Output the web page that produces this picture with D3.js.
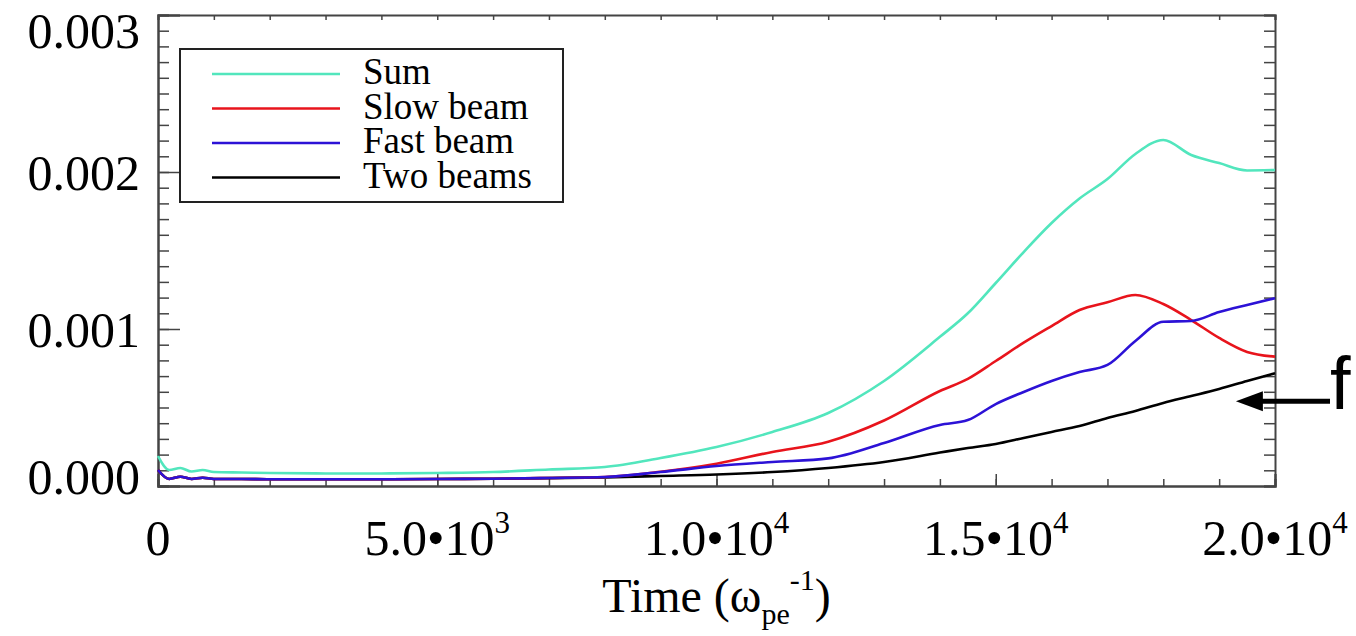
<!DOCTYPE html>
<html>
<head>
<meta charset="utf-8">
<script src="https://cdn.jsdelivr.net/npm/d3@7"></script>
<style>
  body { margin: 0; background: #fff; }
  svg { display: block; }
</style>
</head>
<body>
<div id="chart"></div>
<script>
// time samples (omega_pe^-1)
var times = [0, 200, 400, 600, 800, 1000, 1500, 2000, 3000, 4000, 5000, 6000, 7000, 8000, 9000, 10000,
  11000, 12000, 13000, 14000, 14500, 15000, 15500, 16000, 16500, 17000, 17500, 18000, 18500, 19000, 19500, 20000];

// energies, in units of 1e-3
var sumVals = [0.191, 0.102, 0.115, 0.092, 0.102, 0.089, 0.086, 0.083, 0.080, 0.080, 0.083, 0.089, 0.105, 0.121, 0.178, 0.248,
  0.344, 0.465, 0.669, 0.950, 1.100, 1.293, 1.490, 1.675, 1.831, 1.955, 2.115, 2.204, 2.108, 2.057, 2.010, 2.013];
var slowVals = [0.102, 0.045, 0.059, 0.045, 0.053, 0.045, 0.045, 0.043, 0.043, 0.043, 0.045, 0.046, 0.051, 0.057, 0.091, 0.142,
  0.217, 0.282, 0.417, 0.605, 0.682, 0.796, 0.913, 1.019, 1.121, 1.170, 1.217, 1.159, 1.057, 0.943, 0.854, 0.824];
var fastVals = [0.102, 0.045, 0.059, 0.045, 0.053, 0.045, 0.045, 0.043, 0.043, 0.043, 0.045, 0.046, 0.051, 0.057, 0.089, 0.127,
  0.153, 0.176, 0.274, 0.389, 0.420, 0.522, 0.599, 0.669, 0.726, 0.771, 0.924, 1.046, 1.051, 1.108, 1.153, 1.196];
var twoVals = [0.102, 0.045, 0.059, 0.045, 0.053, 0.045, 0.045, 0.043, 0.043, 0.043, 0.045, 0.046, 0.050, 0.055, 0.064, 0.073,
  0.089, 0.115, 0.153, 0.213, 0.242, 0.268, 0.306, 0.344, 0.382, 0.433, 0.478, 0.529, 0.573, 0.618, 0.669, 0.718];

var seriesNames = ["Sum", "Slow beam", "Fast beam", "Two beams"];
var seriesColors = ["#52e6bd", "#e8141c", "#2c12d6", "#000000"];

var xTickValues = [0, 5000, 10000, 15000, 20000];
var xTickMant = ["0", "5.0\u202210", "1.0\u202210", "1.5\u202210", "2.0\u202210"];
var xTickExp = ["", "3", "4", "4", "4"];

var yTickValues = [0, 1, 2, 3];
var yTickLabels = ["0.000", "0.001", "0.002", "0.003"];

var margin = {top: 15, right: 81, bottom: 150, left: 158};
var width = 1356 - margin.left - margin.right;
var height = 636 - margin.top - margin.bottom;
var serif = "'Liberation Serif', 'Times New Roman', serif";
var axisColor = "#444";

var svg = d3.select("#chart")
  .append("svg")
  .attr("width", 1356)
  .attr("height", 636)
  .append("g")
  .attr("transform", "translate(" + margin.left + "," + margin.top + ")");

var x = d3.scaleLinear().domain([0, 20000]).range([0, width]);
var y = d3.scaleLinear().domain([0, 3]).range([height, 0]);

var xMinor = d3.range(0, 20001, 1000);
var yMinor = d3.range(0, 31).map(function(d) { return d / 10; });

// frame axes: bottom/top/left/right with minor ticks
function styleAxis(g) {
  g.select(".domain").attr("stroke", axisColor).attr("stroke-width", 2);
  g.selectAll(".tick line").attr("stroke", axisColor).attr("stroke-width", 1.5);
  g.selectAll(".tick text").remove();
}

svg.append("g")
  .attr("transform", "translate(0," + height + ")")
  .call(d3.axisTop(x).tickValues(xMinor).tickSizeOuter(0).tickSize(7))
  .call(styleAxis);
svg.append("g")
  .attr("transform", "translate(0," + height + ")")
  .call(d3.axisTop(x).tickValues(xTickValues).tickSizeOuter(0).tickSize(12))
  .call(styleAxis);
svg.append("g")
  .call(d3.axisBottom(x).tickValues(xMinor).tickSizeOuter(0).tickSize(5))
  .call(styleAxis);
svg.append("g")
  .call(d3.axisRight(y).tickValues(yMinor).tickSizeOuter(0).tickSize(11))
  .call(styleAxis);
svg.append("g")
  .call(d3.axisRight(y).tickValues(yTickValues).tickSizeOuter(0).tickSize(22))
  .call(styleAxis);
svg.append("g")
  .attr("transform", "translate(" + width + ",0)")
  .call(d3.axisLeft(y).tickValues(yMinor).tickSizeOuter(0).tickSize(11))
  .call(styleAxis);

// y labels (IDL style, big serif)
svg.selectAll(".ylab")
  .data(yTickValues)
  .enter()
  .append("text")
  .attr("class", "ylab")
  .attr("x", -18)
  .attr("y", function(d) { return Math.min(Math.max(y(d), 15), height - 10); })
  .attr("dy", "0.35em")
  .attr("text-anchor", "end")
  .style("font-family", serif)
  .style("font-size", "50px")
  .text(function(d, i) { return yTickLabels[i]; });

// x labels with superscript exponent
var xl = svg.selectAll(".xlab")
  .data(xTickValues)
  .enter()
  .append("text")
  .attr("class", "xlab")
  .attr("x", function(d) { return x(d); })
  .attr("y", height + 69)
  .attr("text-anchor", "middle")
  .style("font-family", serif)
  .style("font-size", "50px");
xl.append("tspan").text(function(d, i) { return xTickMant[i]; });
xl.append("tspan")
  .attr("dy", -22)
  .style("font-size", "31px")
  .text(function(d, i) { return xTickExp[i]; });

// axis title
var title = svg.append("text")
  .attr("x", width / 2)
  .attr("y", height + 126)
  .attr("text-anchor", "middle")
  .style("font-family", serif)
  .style("font-size", "48px");
title.append("tspan").text("Time (\u03c9");
title.append("tspan").attr("dy", 12).style("font-size", "30px").text("pe");
title.append("tspan").attr("dy", -34).style("font-size", "30px").text("-1");
title.append("tspan").attr("dy", 22).text(")");

// curves
var seriesVals = [sumVals, twoVals, slowVals, fastVals];
var seriesIdx = [0, 3, 1, 2];
var line = d3.line()
  .x(function(d) { return x(d[0]); })
  .y(function(d) { return y(d[1]); })
  .curve(d3.curveMonotoneX);

seriesVals.forEach(function(vals, k) {
  svg.append("path")
    .datum(times.map(function(t, i) { return [t, vals[i]]; }))
    .attr("fill", "none")
    .attr("stroke", seriesColors[seriesIdx[k]])
    .attr("stroke-width", 2.6)
    .attr("d", line);
});

// legend
var legend = svg.append("g").attr("transform", "translate(22,34)");
legend.append("rect")
  .attr("width", 383)
  .attr("height", 153)
  .attr("fill", "#fff")
  .attr("stroke", "#222")
  .attr("stroke-width", 2);
seriesNames.forEach(function(name, i) {
  var ly = 25 + i * 34.5;
  legend.append("line")
    .attr("x1", 32).attr("x2", 160)
    .attr("y1", ly).attr("y2", ly)
    .attr("stroke", seriesColors[i])
    .attr("stroke-width", 2.6);
  legend.append("text")
    .attr("x", 183)
    .attr("y", ly + 10)
    .style("font-family", serif)
    .style("font-size", "37px")
    .text(name);
});

// arrow marking "f"
var ay = y(0.54);
var tipX = x(19300);
svg.append("line")
  .attr("x1", tipX + 24).attr("x2", width + 55)
  .attr("y1", ay).attr("y2", ay)
  .attr("stroke", "#000")
  .attr("stroke-width", 5);
svg.append("path")
  .attr("d", "M" + tipX + "," + ay + "L" + (tipX + 27) + "," + (ay - 10) + "L" + (tipX + 27) + "," + (ay + 10) + "Z")
  .attr("fill", "#000");
svg.append("text")
  .attr("x", width + 55)
  .attr("y", ay + 8)
  .style("font-family", "'Liberation Sans', Arial, sans-serif")
  .style("font-size", "74px")
  .style("font-weight", 300)
  .text("f");
</script>
</body>
</html>
